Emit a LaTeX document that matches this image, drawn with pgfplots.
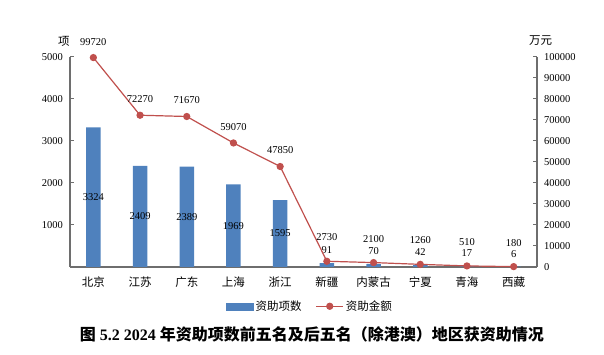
\documentclass[border=0pt]{standalone}
\usepackage{pgfplots}
\pgfplotsset{compat=1.18}
\usepackage{pgfplotstable}
\usepackage{fontspec}
\setmainfont{Liberation Serif}
\newfontfamily\cjk{Noto Sans CJK SC}
\definecolor{barblue}{RGB}{79,129,189}
\definecolor{linered}{RGB}{192,80,77}
\definecolor{axgray}{RGB}{110,110,110}
\pgfplotstableread{
x n amt
0 3324 99720
1 2409 72270
2 2389 71670
3 1969 59070
4 1595 47850
5 91 2730
6 70 2100
7 42 1260
8 17 510
9 6 180
}\data
\pgfplotsset{
 /pgf/number format/assume math mode=true,
 /pgf/number format/1000 sep={},
 /pgf/number format/fixed,
 /pgf/number format/precision=0,
 common/.style={scale only axis, width=467pt, height=210pt, xmin=-0.5, xmax=9.5,
   scaled y ticks=false, tick align=inside, major tick length=4pt,
   axis line style={-, axgray, line width=1.2pt},
   every outer x axis line/.append style={-},
   every outer y axis line/.append style={-},
   tick style={axgray, line width=1pt},
   yticklabel={\pgfmathprintnumber[fixed,precision=0,1000 sep={},assume math mode=true]{\tick}},
   ticklabel style={font=\fontsize{10.5}{12}\selectfont}, clip=false},
 lab/.style={only marks, mark=none, nodes near coords, point meta=explicit,
   nodes near coords style={anchor=center, font=\fontsize{10.5}{12}\selectfont, text=black}},
}
\begin{document}
\begin{tikzpicture}
\begin{axis}[common, ymin=0, ymax=5000, axis x line*=bottom, axis y line*=left,
  ytick={1000,2000,3000,4000,5000},
  yticklabel style={xshift=-3.5pt},
  xtick={0,...,9},
  xticklabels={北京,江苏,广东,上海,浙江,新疆,内蒙古,宁夏,青海,西藏},
  xticklabel style={font=\cjk\fontsize{11.5}{13}\selectfont, yshift=-6pt},
  x tick style={draw=none}]
\addplot[ybar, bar width=14.5pt, fill=barblue, draw=none] table[x=x,y=n]{\data};
\addplot[lab, restrict x to domain=0:4] table[x=x, y expr=\thisrow{n}/2, meta=n]{\data};
\addplot[lab, nodes near coords style={yshift=13pt}, restrict x to domain=5:9] table[x=x, y=n, meta=n]{\data};
\coordinate (O) at (rel axis cs:0,0);
\node[font=\cjk\fontsize{11.5}{13}\selectfont, xshift=-6pt, yshift=16pt] at (rel axis cs:0,1) {项};
\node[font=\fontsize{16}{18}\selectfont, yshift=-67pt] at (rel axis cs:0.518,0)
  {\textbf{{\cjk 图} 5.2 2024 {\cjk 年资助项数前五名及后五名（除港澳）地区获资助情况}}};
\end{axis}
\begin{axis}[common, ymin=0, ymax=100000, axis y line*=right, axis x line=none,
  ytick={0,10000,...,100000},
  yticklabel style={xshift=3.5pt},
  legend style={at={(0.514,-0.187)}, anchor=center, draw=none, fill=none,
    legend columns=2, font=\cjk\fontsize{11.5}{13}\selectfont,
    /tikz/every even column/.append style={column sep=12pt}},
  legend cell align=left]
\addlegendimage{legend image code/.code={\fill[barblue] (0pt,-3.5pt) rectangle (27pt,3.5pt);}}
\addlegendentry{资助项数}
\addplot[linered, line width=1.2pt, mark=*, mark size=3pt, mark options={fill=linered, draw=linered},
  legend image code/.code={\draw[linered, line width=1.2pt, mark=*, mark size=3pt, mark options={fill=linered}, mark repeat=2, mark phase=2] plot coordinates {(0pt,0pt) (13.5pt,0pt) (27pt,0pt)};}]
  table[x=x,y=amt]{\data};
\addlegendentry{资助金额}
\addplot[lab, forget plot, nodes near coords style={yshift=16pt}, restrict x to domain=0:4] table[x=x, y=amt, meta=amt]{\data};
\addplot[lab, forget plot, nodes near coords style={yshift=24pt}, restrict x to domain=5:9] table[x=x, y=amt, meta=amt]{\data};
\node[font=\cjk\fontsize{11.5}{13}\selectfont, xshift=3.5pt, yshift=16pt] at (rel axis cs:1,1) {万元};
\end{axis}
\path (O) ++(-70pt,-88pt) rectangle ++(604pt,355pt);
\end{tikzpicture}
\end{document}
